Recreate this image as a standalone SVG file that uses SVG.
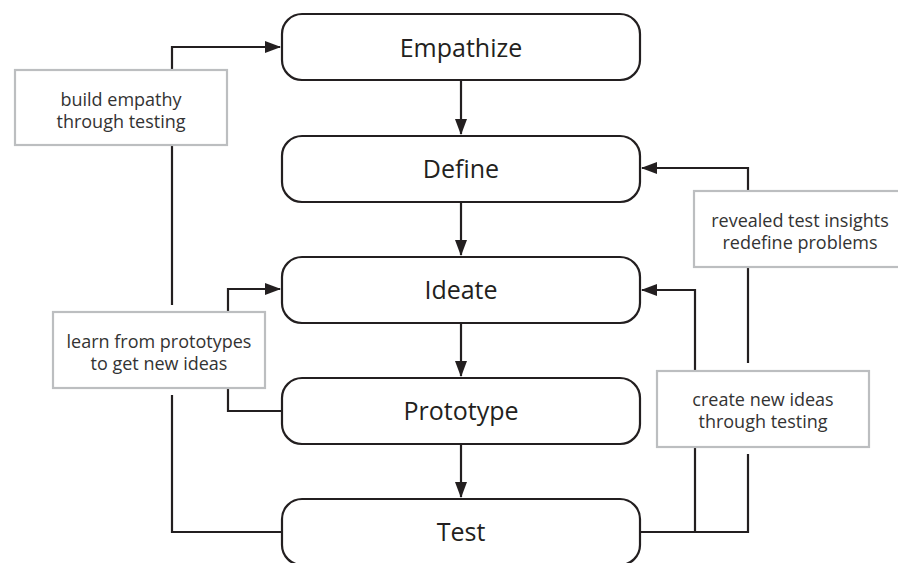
<svg xmlns="http://www.w3.org/2000/svg" width="898" height="563" viewBox="0 0 898 563">
<style>
.node rect{fill:#fff;stroke:#231f20;stroke-width:2.2}
.node text{font-family:"Open Sans",sans-serif;font-size:25px;fill:#231f20;text-anchor:middle}
.conn path{fill:none;stroke:#231f20;stroke-width:2.2}
.label rect{fill:#fff;stroke:#bcbec0;stroke-width:2.2}
.label text{font-family:"Open Sans",sans-serif;font-size:18px;fill:#333;text-anchor:middle}
</style>
<defs>
<marker id="ah" viewBox="0 0 16 12" refX="15" refY="6" markerWidth="16" markerHeight="12" markerUnits="userSpaceOnUse" orient="auto">
<path d="M0,0 L16,6 L0,12 Z" fill="#231f20"/>
</marker>
</defs>
<rect width="898" height="563" fill="#fff"/>
<g id="connectors" class="conn">
<path d="M461,81 V134" marker-end="url(#ah)"/>
<path d="M461,202 V255" marker-end="url(#ah)"/>
<path d="M461,323 V376" marker-end="url(#ah)"/>
<path d="M461,444 V497" marker-end="url(#ah)"/>
<path d="M282,532 H172 V395"/>
<path d="M172,305 V47 H280" marker-end="url(#ah)"/>
<path d="M282,411 H228 V289 H280" marker-end="url(#ah)"/>
<path d="M640,532 H748 V454"/>
<path d="M748,363 V168 H642" marker-end="url(#ah)"/>
<path d="M640,532 H695 V290 H642" marker-end="url(#ah)"/>
</g>
<g id="empathize" class="node"><rect x="282" y="14" width="358" height="66" rx="20"/><text x="461" y="57">Empathize</text></g>
<g id="define" class="node"><rect x="282" y="136" width="358" height="66" rx="20"/><text x="461" y="178">Define</text></g>
<g id="ideate" class="node"><rect x="282" y="257" width="358" height="66" rx="20"/><text x="461" y="299">Ideate</text></g>
<g id="prototype" class="node"><rect x="282" y="378" width="358" height="66" rx="20"/><text x="461" y="420">Prototype</text></g>
<g id="test" class="node"><rect x="282" y="499" width="358" height="66" rx="20"/><text x="461" y="541">Test</text></g>
<g id="label-empathy" class="label"><rect x="15" y="70" width="212" height="75"/><text x="121" y="106">build empathy</text><text x="121" y="128">through testing</text></g>
<g id="label-prototypes" class="label"><rect x="53" y="312" width="212" height="76"/><text x="159" y="348">learn from prototypes</text><text x="159" y="370">to get new ideas</text></g>
<g id="label-insights" class="label"><rect x="694" y="191" width="212" height="76"/><text x="800" y="227">revealed test insights</text><text x="800" y="249">redefine problems</text></g>
<g id="label-ideas" class="label"><rect x="657" y="371" width="212" height="76"/><text x="763" y="406">create new ideas</text><text x="763" y="428">through testing</text></g>
</svg>
